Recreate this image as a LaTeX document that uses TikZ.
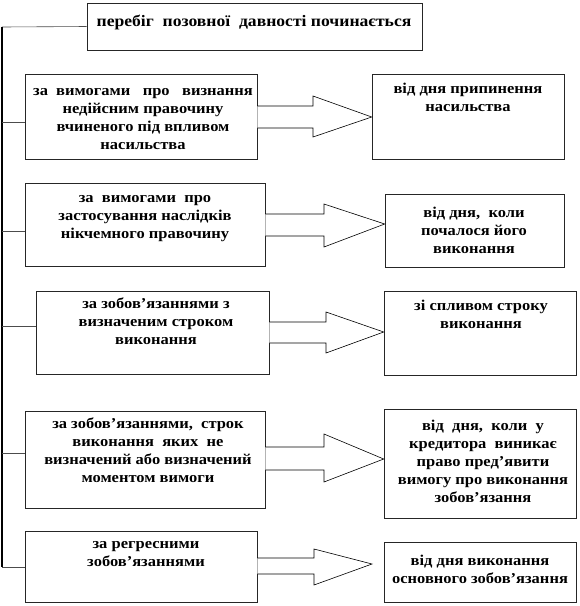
\documentclass[tikz,border=0pt]{standalone}
\usepackage{fontspec}
\setmainfont{Liberation Serif}[FakeStretch=1.1]
\newcommand{\tstrut}{\rule{0pt}{13pt}}
\begin{document}
\begin{tikzpicture}[x=1pt,y=-1pt,
  box/.style={draw=black!85, line width=0.6pt, inner sep=0pt},
  lbl/.style={font=\bfseries\fontsize{15}{18}\selectfont, align=center, inner sep=0pt, anchor=north},
  conn/.style={draw=black!70, line width=0.6pt},
  spine/.style={draw=black, line width=1.5pt},
  barrow/.style={draw=black, line width=0.6pt, fill=white}]
\useasboundingbox (0,0) rectangle (580,606);
% boxes
\node[box, minimum width=335pt, minimum height=47pt] (top) at (254.5,26.5) {};
\node[box, minimum width=232pt, minimum height=85pt] (L1) at (141,116.5) {};
\node[box, minimum width=192pt, minimum height=85pt] (R1) at (468,116.5) {};
\node[box, minimum width=240pt, minimum height=83pt] (L2) at (145,224.5) {};
\node[box, minimum width=179pt, minimum height=73pt] (R2) at (474.5,230.5) {};
\node[box, minimum width=233pt, minimum height=83pt] (L3) at (152.5,332.5) {};
\node[box, minimum width=192pt, minimum height=84pt] (R3) at (480,333) {};
\node[box, minimum width=240pt, minimum height=97pt] (L4) at (145,459.5) {};
\node[box, minimum width=192pt, minimum height=109pt] (R4) at (480,463.5) {};
\node[box, minimum width=232pt, minimum height=71pt] (L5) at (141,566.5) {};
\node[box, minimum width=192pt, minimum height=60pt] (R5) at (480,572) {};
% texts
\node[lbl, font=\bfseries\fontsize{16}{20}\selectfont] (ttop) at (254,13) {\tstrut перебіг\ \ позовної\ \ давності починається};
\node[lbl] (t1) at (143,82) {\tstrut за\ \ вимогами\ \ \ про\ \ \ визнання\\недійсним правочину\\вчиненого під впливом\\насильства};
\node[lbl] (u1) at (468,80) {\tstrut від дня припинення\\насильства};
\node[lbl] (t2) at (145,189) {\tstrut за\ \ вимогами\ \ про\\застосування наслідків\\нікчемного правочину};
\node[lbl] (u2) at (474,204) {\tstrut від дня,\ \ коли\\почалося його\\виконання};
\node[lbl] (t3) at (156,295) {\tstrut за зобов’язаннями з\\визначеним строком\\виконання};
\node[lbl] (u3) at (481,297) {\tstrut зі спливом строку\\виконання};
\node[lbl] (t4) at (148,415) {\tstrut за зобов’язаннями,\ \ строк\\виконання\ \ яких\ \ не\\визначений або визначений\\моментом вимоги};
\node[lbl] (u4) at (483,417) {\tstrut від\ \ дня,\ \ коли\ \ у\\кредитора\ \ виникає\\право пред’явити\\вимогу про виконання\\зобов’язання};
\node[lbl] (t5) at (146,535) {\tstrut за регресними\\зобов’язаннями};
\node[lbl] (u5) at (480,552) {\tstrut від дня виконання\\основного зобов’язання};
% spine and connectors
\coordinate (sp0) at (2,27);
\coordinate (sp1) at (2,567);
\draw[conn] (top.west) -- (sp0);
\draw[spine] (sp0) -- (sp1);
\draw[conn] (2,122) -- (L1.west |- 0,122);
\draw[conn] (2,231) -- (L2.west |- 0,231);
\draw[conn] (2,326) -- (L3.west |- 0,326);
\draw[conn] (2,453) -- (L4.west |- 0,453);
\draw[conn] (2,567) -- (L5.west |- 0,567);
% block arrows
\draw[barrow] (L1.east |- 0,106) -- (313,106) -- (313,96) -- (R1.west |- 0,117) -- (313,137) -- (313,128) -- (L1.east |- 0,128);
\draw[barrow] (L2.east |- 0,214) -- (324,214) -- (324,204) -- (R2.west |- 0,224) -- (324,247) -- (324,236) -- (L2.east |- 0,236);
\draw[barrow] (L3.east |- 0,322) -- (326,322) -- (326,312) -- (R3.west |- 0,332) -- (326,353) -- (326,343) -- (L3.east |- 0,343);
\draw[barrow] (L4.east |- 0,447) -- (324,447) -- (324,434) -- (R4.west |- 0,459) -- (324,482) -- (324,470) -- (L4.east |- 0,470);
\draw[barrow] (L5.east |- 0,558) -- (314,558) -- (314,549) -- (372,564) -- (314,585) -- (314,574) -- (L5.east |- 0,574);
\end{tikzpicture}
\end{document}
